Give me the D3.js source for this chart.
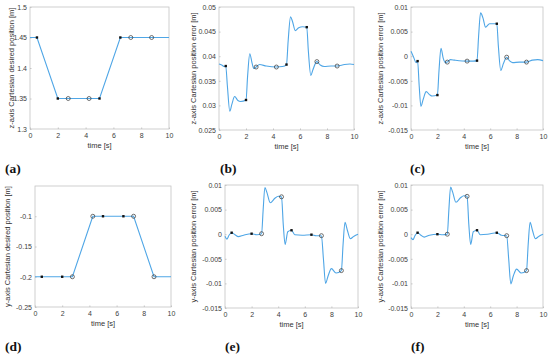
<!DOCTYPE html>
<html><head><meta charset="utf-8">
<script src="https://cdn.jsdelivr.net/npm/d3@7"></script>
<style>body{margin:0;background:#fff}svg{display:block}</style>
</head><body>
<svg id="c" width="550" height="356"></svg>
<script>
// ---------- data ----------
const desiredTimes = [0, 0.5, 2, 2.75, 4.25, 5, 6.5, 7.25, 8.75, 10];
const zDesired = [1.45, 1.45, 1.35, 1.35, 1.35, 1.35, 1.45, 1.45, 1.45, 1.45];
const yDesired = [-0.2, -0.2, -0.2, -0.2, -0.1, -0.1, -0.1, -0.1, -0.2, -0.2];
const filledTimes = [0.5, 2, 5, 6.5];
const openTimes = [2.75, 4.25, 7.25, 8.75];
const zDesFilled = [1.45, 1.35, 1.35, 1.45];
const zDesOpen = [1.35, 1.35, 1.45, 1.45];
const yDesFilled = [-0.2, -0.2, -0.1, -0.1];
const yDesOpen = [-0.2, -0.1, -0.1, -0.2];

const zErrB = [[0,0.0384],[0.2,0.0382],[0.4,0.0379],[0.5,0.038],[0.62,0.034],[0.8,0.0288],[0.95,0.0302],[1.16,0.0318],[1.4,0.031],[1.6,0.0308],[2.0,0.0311],[2.12,0.036],[2.28,0.0405],[2.45,0.0386],[2.58,0.0375],[2.75,0.0378],[3.0,0.0383],[3.5,0.038],[4.25,0.0378],[4.7,0.0379],[5.0,0.0383],[5.12,0.043],[5.3,0.048],[5.45,0.047],[5.65,0.0452],[5.9,0.0458],[6.2,0.046],[6.5,0.0459],[6.62,0.041],[6.8,0.0361],[6.95,0.0372],[7.25,0.0389],[7.5,0.0382],[7.8,0.0379],[8.3,0.038],[8.75,0.038],[9.3,0.0383],[9.7,0.0384],[10,0.0383]];
const zErrBFilled = [0.038, 0.0311, 0.0383, 0.0459];
const zErrBOpen = [0.0378, 0.0378, 0.0389, 0.038];

const zErrC = [[0,0.001],[0.2,-0.0002],[0.38,-0.0013],[0.5,-0.001],[0.62,-0.006],[0.75,-0.0102],[0.92,-0.0088],[1.15,-0.0072],[1.4,-0.0078],[1.6,-0.0081],[2.0,-0.0079],[2.12,-0.003],[2.27,0.0016],[2.45,-0.0005],[2.6,-0.0013],[2.75,-0.0012],[3.0,-0.0007],[3.3,-0.0008],[4.25,-0.001],[4.7,-0.001],[5.0,-0.0009],[5.12,0.004],[5.27,0.0088],[5.45,0.0078],[5.65,0.0059],[5.95,0.0066],[6.5,0.0066],[6.62,0.002],[6.8,-0.0029],[7.0,-0.0015],[7.25,-0.0002],[7.45,-0.0009],[7.7,-0.0013],[8.2,-0.0012],[8.75,-0.0012],[9.2,-0.0008],[9.6,-0.0007],[10,-0.0009]];
const zErrCFilled = [-0.001, -0.0079, -0.0009, 0.0066];
const zErrCOpen = [-0.0012, -0.001, -0.0002, -0.0012];

const yErrE = [[0,-0.0004],[0.15,-0.001],[0.3,-0.0002],[0.5,0.0003],[0.75,-0.0001],[1.0,-0.0005],[1.4,-0.0002],[2.0,0.0001],[2.4,-0.0001],[2.75,0.0001],[2.87,0.005],[3.0,0.0095],[3.15,0.0085],[3.4,0.0064],[3.75,0.0073],[4.0,0.0077],[4.25,0.0076],[4.38,0.002],[4.52,-0.0021],[4.72,0.0005],[5.0,0.0008],[5.25,-0.0001],[5.8,-0.0002],[6.5,-0.0001],[6.85,-0.0003],[7.25,-0.0003],[7.4,-0.005],[7.56,-0.01],[7.75,-0.0085],[8.0,-0.007],[8.35,-0.0079],[8.75,-0.0074],[8.88,-0.002],[9.02,0.0024],[9.2,0.0008],[9.42,-0.0009],[9.7,-0.0004],[10,0]];
const yErrEFilled = [0.0003, 0.0001, 0.0008, -0.0001];
const yErrEOpen = [0.0001, 0.0076, -0.0003, -0.0074];

const yErrF = [[0,-0.0007],[0.15,-0.0011],[0.3,-0.0003],[0.5,0.0003],[0.75,-0.0002],[1.0,-0.0006],[1.4,-0.0002],[2.0,0.0],[2.4,-0.0001],[2.75,0.0],[2.87,0.005],[3.0,0.0096],[3.15,0.0086],[3.4,0.0065],[3.75,0.0074],[4.0,0.0078],[4.25,0.0077],[4.38,0.002],[4.52,-0.0021],[4.72,0.0005],[5.0,0.0008],[5.25,-0.0001],[5.8,0.0],[6.5,0.0003],[6.85,-0.0002],[7.25,-0.0003],[7.4,-0.005],[7.56,-0.0101],[7.75,-0.0085],[8.0,-0.0071],[8.35,-0.0079],[8.75,-0.0074],[8.88,-0.002],[9.02,0.0024],[9.2,0.0008],[9.42,-0.0009],[9.7,-0.0004],[10,0]];
const yErrFFilled = [0.0003, 0.0, 0.0008, 0.0003];
const yErrFOpen = [0.0, 0.0077, -0.0003, -0.0074];

const timeTicks = [0, 2, 4, 6, 8, 10];
const ticksZDes = [1.3, 1.35, 1.4, 1.45, 1.5];
const ticksZErrB = [0.025, 0.03, 0.035, 0.04, 0.045, 0.05];
const ticksErr = [-0.015, -0.01, -0.005, 0, 0.005, 0.01];
const ticksYDes = [-0.25, -0.2, -0.15, -0.1];
const tags = ["(a)", "(b)", "(c)", "(d)", "(e)", "(f)"];
const yLabels = ["z-axis Cartesian desired position [m]", "z-axis Cartesian position error [m]", "z-axis Cartesian position error [m]",
                 "y-axis Cartesian desired position [m]", "y-axis Cartesian position error [m]", "y-axis Cartesian position error [m]"];
const xLabel = "time [s]";

// ---------- layout ----------
const panels = [
  {x0:30, x1:169, y0:7, y1:129, dom:[1.3,1.5], ticks:ticksZDes, lx:11, tx:5, ty:173,
   curve:desiredTimes.map((t,i)=>[t,zDesired[i]]), curveType:d3.curveLinear, filled:zDesFilled, open:zDesOpen},
  {x0:219, x1:354, y0:7, y1:130, dom:[0.025,0.05], ticks:ticksZErrB, lx:193, tx:220, ty:173,
   curve:zErrB, curveType:d3.curveMonotoneX, filled:zErrBFilled, open:zErrBOpen},
  {x0:411, x1:543, y0:7, y1:130, dom:[-0.015,0.01], ticks:ticksErr, lx:380, tx:410, ty:173,
   curve:zErrC, curveType:d3.curveMonotoneX, filled:zErrCFilled, open:zErrCOpen},
  {x0:35, x1:171, y0:186, y1:307, dom:[-0.25,-0.05], ticks:ticksYDes, lx:7, tx:5, ty:351,
   curve:desiredTimes.map((t,i)=>[t,yDesired[i]]), curveType:d3.curveLinear, filled:yDesFilled, open:yDesOpen},
  {x0:225, x1:358, y0:185, y1:308, dom:[-0.015,0.01], ticks:ticksErr, lx:193, tx:225, ty:351,
   curve:yErrE, curveType:d3.curveMonotoneX, filled:yErrEFilled, open:yErrEOpen},
  {x0:411, x1:543, y0:185, y1:308, dom:[-0.015,0.01], ticks:ticksErr, lx:380, tx:411, ty:351,
   curve:yErrF, curveType:d3.curveMonotoneX, filled:yErrFFilled, open:yErrFOpen}
];

const svg = d3.select("#c");
const axisCol = "#c4c4c4", textCol = "#404040", lineCol = "#4fa6e6";
const fmt = v => { const s = (+v.toFixed(4)).toString(); return s; };

panels.forEach((p, i) => {
  const g = svg.append("g");
  const x = d3.scaleLinear().domain([0,10]).range([p.x0, p.x1]);
  const y = d3.scaleLinear().domain(p.dom).range([p.y1, p.y0]);

  // box
  g.append("rect").attr("x", p.x0).attr("y", p.y0).attr("width", p.x1-p.x0).attr("height", p.y1-p.y0)
    .attr("fill", "none").attr("stroke", axisCol).attr("stroke-width", 0.8);

  // axes
  const xa = g.append("g").attr("transform", `translate(0,${p.y1})`)
    .call(d3.axisBottom(x).tickValues(timeTicks).tickFormat(d3.format("d")).tickSizeInner(-1.5).tickSizeOuter(0).tickPadding(4));
  const ya = g.append("g").attr("transform", `translate(${p.x0},0)`)
    .call(d3.axisLeft(y).tickValues(p.ticks).tickFormat(fmt).tickSizeInner(-1.5).tickSizeOuter(0).tickPadding(3));
  [xa, ya].forEach(a => {
    a.select(".domain").remove();
    a.selectAll("line").attr("stroke", axisCol);
    a.selectAll("text").attr("fill", textCol).style("font-family", "Liberation Sans, Arial, sans-serif").style("font-size", "7px");
  });

  // curve
  g.append("path").datum(p.curve)
    .attr("d", d3.line().x(d=>x(d[0])).y(d=>y(d[1])).curve(p.curveType))
    .attr("fill", "none").attr("stroke", lineCol).attr("stroke-width", 1.1);

  // markers
  g.selectAll(".f").data(filledTimes.map((t,k)=>[t,p.filled[k]])).join("rect")
    .attr("x", d=>x(d[0])-1.2).attr("y", d=>y(d[1])-1.2).attr("width", 2.4).attr("height", 2.4).attr("fill", "#111");
  g.selectAll(".o").data(openTimes.map((t,k)=>[t,p.open[k]])).join("circle")
    .attr("cx", d=>x(d[0])).attr("cy", d=>y(d[1])).attr("r", 2)
    .attr("fill", "none").attr("stroke", "#333").attr("stroke-width", 0.7);

  // labels
  g.append("text").attr("x", (p.x0+p.x1)/2).attr("y", p.y1+19).attr("text-anchor", "middle")
    .attr("fill", "#333").style("font-family", "Liberation Sans, Arial, sans-serif").style("font-size", "7.5px").text(xLabel);
  g.append("text").attr("transform", `translate(${p.lx},${(p.y0+p.y1)/2}) rotate(-90)`).attr("dy", "0.35em")
    .attr("text-anchor", "middle").attr("fill", "#333")
    .style("font-family", "Liberation Sans, Arial, sans-serif").style("font-size", "7.5px").text(yLabels[i]);
  g.append("text").attr("x", p.tx).attr("y", p.ty).attr("fill", "#111")
    .style("font-family", "Liberation Serif, Times New Roman, serif").style("font-size", "13.5px").style("font-weight", "bold").text(tags[i]);
});
</script>
</body></html>
